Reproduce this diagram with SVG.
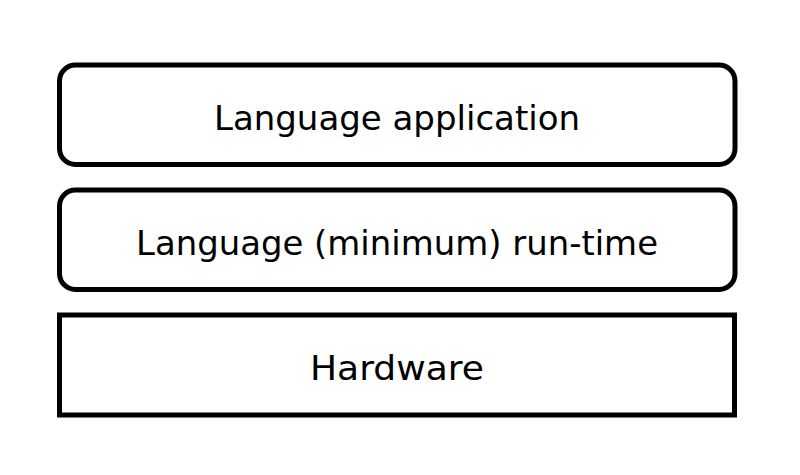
<svg xmlns="http://www.w3.org/2000/svg" width="800" height="475" viewBox="0 0 800 475">
<style>
.box{fill:#fff;stroke:#000;stroke-width:5}
.lbl{font-family:"DejaVu Sans","Noto Sans",sans-serif;font-size:34px;fill:#000;text-anchor:middle;dominant-baseline:central}
</style>
<rect width="800" height="475" fill="#fff"/>
<g id="app">
<rect class="box" x="59.5" y="65" width="675.5" height="99.5" rx="16"/>
<text class="lbl" x="397" y="118" textLength="366" lengthAdjust="spacingAndGlyphs">Language application</text>
</g>
<g id="runtime">
<rect class="box" x="59.5" y="190" width="675.5" height="99.5" rx="16"/>
<text class="lbl" x="397" y="243" textLength="522" lengthAdjust="spacingAndGlyphs">Language (minimum) run-time</text>
</g>
<g id="hardware">
<rect class="box" x="59.5" y="315" width="675" height="100"/>
<text class="lbl" x="397" y="368" textLength="174" lengthAdjust="spacingAndGlyphs">Hardware</text>
</g>
<g id="connectors"/>
</svg>
